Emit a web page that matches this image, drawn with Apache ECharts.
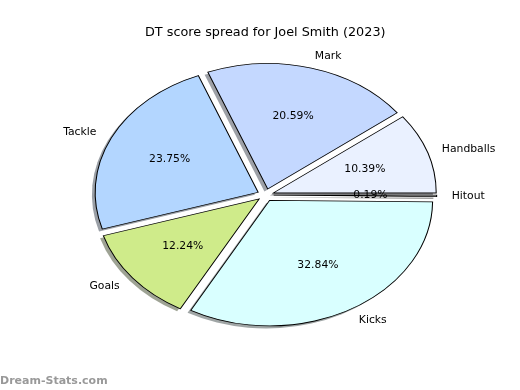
<!DOCTYPE html>
<html>
<head>
<meta charset="utf-8">
<script src="https://cdn.jsdelivr.net/npm/echarts@6/dist/echarts.min.js"></script>
<style>
html,body{margin:0;padding:0;background:#fff;}
#c{width:520px;height:390px;}
</style>
</head>
<body>
<div id="c"></div>
<script>
// ---- data ----
var titleText = 'DT score spread for Joel Smith (2023)';
var categories = ['Handballs', 'Mark', 'Tackle', 'Goals', 'Kicks', 'Hitout'];
var values = [10.39, 20.59, 23.75, 12.24, 32.84, 0.19];
var colors = ['#eaf1ff', '#c4d8ff', '#b3d6ff', '#cfeb8a', '#d9ffff', '#d0d0d0'];
var watermark = 'Dream-Stats.com';

// ---- layout ----
var CX = 265.5, CY = 195, RX = 163, RY = 125.5;
var LCX = 264.8, LRX = 162.5;
var EXPLODE = 0.05, LABEL_DIST = 1.1, PCT_DIST = 0.6;
var FONT = 'DejaVu Sans, sans-serif';

var total = values.reduce(function (a, b) { return a + b; }, 0);

function shadowColor(hex) {
  var r = parseInt(hex.substr(1, 2), 16), g = parseInt(hex.substr(3, 2), 16), b = parseInt(hex.substr(5, 2), 16);
  return 'rgb(' + Math.round(r * 0.3) + ',' + Math.round(g * 0.3) + ',' + Math.round(b * 0.3) + ')';
}

function renderItem(params, api) {
  var i = params.dataIndex;
  var before = 0;
  for (var k = 0; k < i; k++) before += values[k];
  var v = api.value(0);
  var t1 = before / total * 2 * Math.PI;
  var t2 = (before + v) / total * 2 * Math.PI;
  var tm = (t1 + t2) / 2;
  var c = Math.cos(tm), s = Math.sin(tm);
  var ox = CX + EXPLODE * RX * c;
  var oy = CY - EXPLODE * RY * s;
  var sx = RX / RY;
  var shape = { cx: 0, cy: 0, r0: 0, r: RY, startAngle: -t1, endAngle: -t2, clockwise: false };
  var lx = LCX + (EXPLODE + LABEL_DIST) * LRX * c;
  var ly = CY - (EXPLODE + LABEL_DIST) * RY * s;
  var px = LCX + (EXPLODE + PCT_DIST) * LRX * c;
  var py = CY - (EXPLODE + PCT_DIST) * RY * s;
  return {
    type: 'group',
    children: [
      {
        type: 'sector', shape: shape, x: ox - 0.02 * RX, y: oy + 0.02 * RY, scaleX: sx, scaleY: 1, z2: 1,
        style: { fill: shadowColor(colors[i]), opacity: 0.5, lineWidth: 0 }, silent: true
      },
      {
        type: 'sector', shape: shape, x: ox, y: oy, scaleX: sx, scaleY: 1, z2: 10,
        style: { fill: colors[i], stroke: '#000', lineWidth: 0.8, strokeNoScale: true }
      },
      {
        type: 'text', x: lx, y: ly, z2: 20,
        style: { text: categories[i], fill: '#000', font: '10.8px ' + FONT, align: c > 0 ? 'left' : 'right', verticalAlign: 'middle' }
      },
      {
        type: 'text', x: px, y: py, z2: 20,
        style: { text: v.toFixed(2) + '%', fill: '#000', font: '10.8px ' + FONT, align: 'center', verticalAlign: 'middle' }
      }
    ]
  };
}

var chart = echarts.init(document.getElementById('c'), null, { renderer: 'canvas' });
chart.setOption({
  animation: false,
  backgroundColor: '#fff',
  title: {
    text: titleText, left: 140, top: 21,
    textStyle: { fontFamily: FONT, fontSize: 12.8, fontWeight: 'normal', color: '#000' }
  },
  graphic: [{
    type: 'text', left: 0, bottom: 3,
    style: { text: watermark, fill: '#999', font: 'bold 11px ' + FONT }
  }],
  series: [{
    type: 'custom',
    coordinateSystem: 'none',
    renderItem: renderItem,
    data: values.map(function (v, i) { return { name: categories[i], value: [v] }; })
  }]
});
</script>
</body>
</html>
